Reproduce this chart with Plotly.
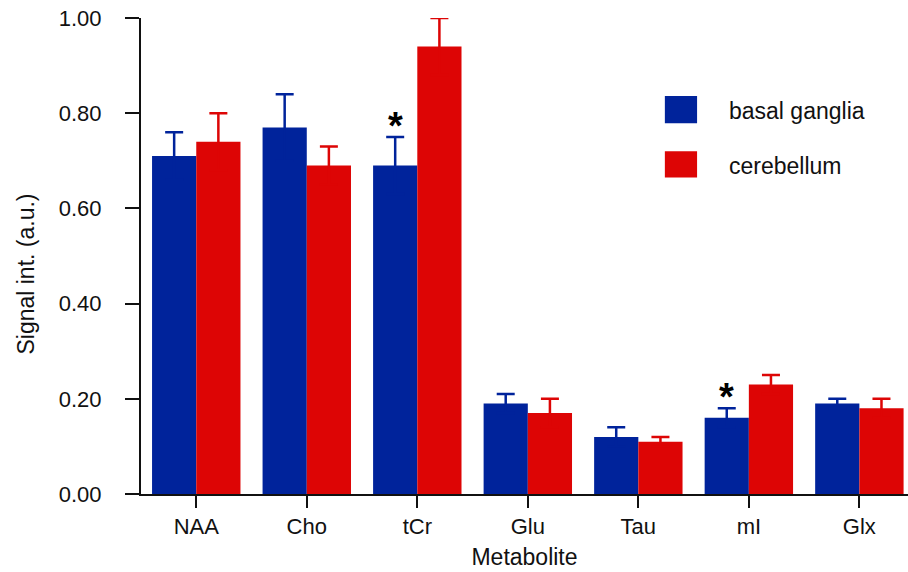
import plotly.graph_objects as go

categories = ["NAA", "Cho", "tCr", "Glu", "Tau", "mI", "Glx"]
basal_ganglia = [0.71, 0.77, 0.69, 0.19, 0.12, 0.16, 0.19]
basal_ganglia_err = [0.05, 0.07, 0.06, 0.02, 0.02, 0.02, 0.01]
cerebellum = [0.74, 0.69, 0.94, 0.17, 0.11, 0.23, 0.18]
cerebellum_err = [0.06, 0.04, 0.06, 0.03, 0.01, 0.02, 0.02]
y_ticks = [0.0, 0.2, 0.4, 0.6, 0.8, 1.0]
y_tick_labels = ["0.00", "0.20", "0.40", "0.60", "0.80", "1.00"]
significant = ["tCr", "mI"]

BLUE = "#00239b"
RED = "#dd0505"
FONT = "Liberation Sans, Arial, sans-serif"

fig = go.Figure()
# symmetric error bars: the lower half is hidden inside the same-coloured bar
fig.add_trace(go.Bar(
    x=categories, y=basal_ganglia, name="basal ganglia",
    marker=dict(color=BLUE, line=dict(width=0)),
    error_y=dict(type="data", array=basal_ganglia_err, symmetric=True,
                 color=BLUE, thickness=2.5, width=9),
    cliponaxis=False, showlegend=False,
))
fig.add_trace(go.Bar(
    x=categories, y=cerebellum, name="cerebellum",
    marker=dict(color=RED, line=dict(width=0)),
    error_y=dict(type="data", array=cerebellum_err, symmetric=True,
                 color=RED, thickness=2.5, width=9),
    cliponaxis=False, showlegend=False,
))

# significance asterisks above basal ganglia bars
for cat in significant:
    i = categories.index(cat)
    fig.add_annotation(
        x=i - 0.2, y=basal_ganglia[i] + basal_ganglia_err[i], xref="x", yref="y",
        text="<b>*</b>", showarrow=False, yshift=11,
        font=dict(family=FONT, size=38, color="black"),
    )

# legend drawn manually (large swatches)
legend_items = [("basal ganglia", BLUE, 0.779, 0.836, 0.804),
                ("cerebellum", RED, 0.665, 0.720, 0.689)]
for label, color, y0, y1, ty in legend_items:
    fig.add_shape(type="rect", xref="paper", yref="paper",
                  x0=0.683, x1=0.725, y0=y0, y1=y1,
                  fillcolor=color, line=dict(width=0))
    fig.add_annotation(x=0.764, y=ty, xref="paper", yref="paper",
                       text=label, showarrow=False, xanchor="left", yanchor="middle",
                       font=dict(family=FONT, size=23, color="#111"))

# y-axis title as annotation (positioned like the reference)
fig.add_annotation(x=-0.15, y=0.463, xref="paper", yref="paper",
                   text="Signal int. (a.u.)", showarrow=False, textangle=-90,
                   xanchor="center", yanchor="middle",
                   font=dict(family=FONT, size=23, color="#111"))

fig.update_layout(
    width=908, height=572,
    margin=dict(l=141, r=0, t=18, b=78),
    paper_bgcolor="white", plot_bgcolor="white",
    barmode="group", bargap=0.2, bargroupgap=0,
    font=dict(family=FONT, size=22, color="#111"),
    xaxis=dict(
        range=[-0.5, 6.44], showline=True, linecolor="#111", linewidth=2,
        ticks="outside", ticklen=12, tickwidth=2, tickcolor="#111",
        showgrid=False, zeroline=False, automargin=False,
        title=dict(text="Metabolite", font=dict(size=23), standoff=10),
        tickfont=dict(size=22),
    ),
    yaxis=dict(
        range=[0, 1.0], showline=True, linecolor="#111", linewidth=2,
        ticks="outside", ticklen=14, tickwidth=2, tickcolor="#111",
        tickvals=y_ticks, ticktext=y_tick_labels,
        showgrid=False, zeroline=False, automargin=False,
        ticklabelstandoff=19,
        tickfont=dict(size=22),
    ),
)

fig.write_html(
    "out.html",
    config={"displayModeBar": False},
    post_script="document.body.style.margin='0';document.body.style.overflow='hidden';",
)
